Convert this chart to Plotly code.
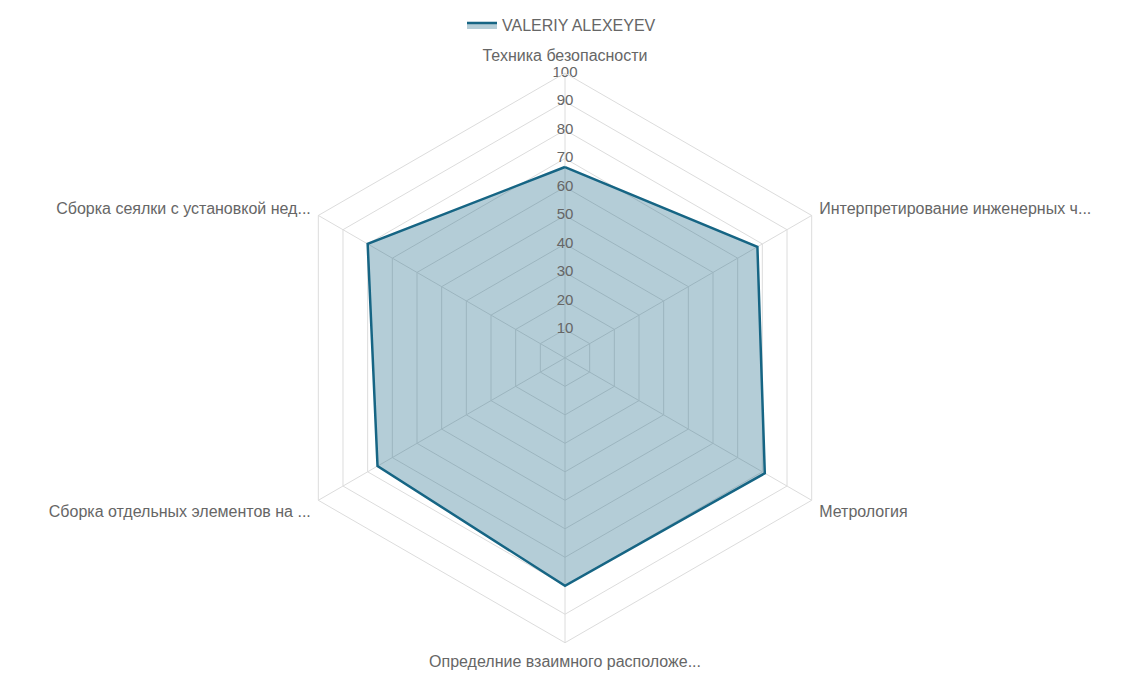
import plotly.graph_objects as go

categories = [
    "Техника безопасности",
    "Интерпретирование инженерных ч...",
    "Метрология",
    "Определние взаимного расположе...",
    "Сборка отдельных элементов на ...",
    "Сборка сеялки с установкой нед...",
]
values = [67, 78, 81, 80, 76, 80]
series_name = "VALERIY ALEXEYEV"
tick_vals = [10, 20, 30, 40, 50, 60, 70, 80, 90, 100]
tick_text = [str(v) for v in tick_vals]

line_color = "rgb(22,101,132)"
fill_color = "rgba(22,101,132,0.32)"
grid_color = "#dcdcdc"
text_color = "#666666"
font_family = "Liberation Sans, Arial, sans-serif"

fig = go.Figure()
fig.add_trace(go.Scatterpolar(
    r=values + [values[0]],
    theta=categories + [categories[0]],
    mode="lines",
    fill="toself",
    fillcolor=fill_color,
    line=dict(color=line_color, width=2.5),
    name=series_name,
))
fig.add_trace(go.Scatterpolar(
    r=tick_vals,
    theta=[categories[0]] * len(tick_vals),
    mode="text",
    text=tick_text,
    textposition="middle center",
    textfont=dict(color=text_color, size=15, family=font_family),
    showlegend=False,
    hoverinfo="skip",
))

W, H = 1125, 674
cx, cy, R = 557, 344, 290
fig.update_layout(
    width=W, height=H,
    margin=dict(l=0, r=0, t=0, b=0),
    paper_bgcolor="white",
    plot_bgcolor="white",
    font=dict(family=font_family, color=text_color, size=16),
    showlegend=True,
    legend=dict(orientation="h", x=0.492, xanchor="center", y=1.018, yanchor="top",
                font=dict(size=16, color=text_color, family=font_family)),
    polar=dict(
        domain=dict(x=[(cx - R) / W, (cx + R) / W],
                    y=[(H - cy - R) / H, (H - cy + R) / H]),
        gridshape="linear",
        bgcolor="white",
        radialaxis=dict(
            range=[0, 100], tickvals=tick_vals, showticklabels=False,
            ticks="", showline=False, gridcolor=grid_color, gridwidth=1,
            angle=90,
        ),
        angularaxis=dict(
            rotation=90, direction="clockwise",
            gridcolor=grid_color, linecolor=grid_color, showline=True,
            ticks="outside", ticklen=5, tickcolor="rgba(0,0,0,0)",
            tickfont=dict(size=16, color=text_color, family=font_family),
        ),
    ),
)

fig.write_html("out.html")
